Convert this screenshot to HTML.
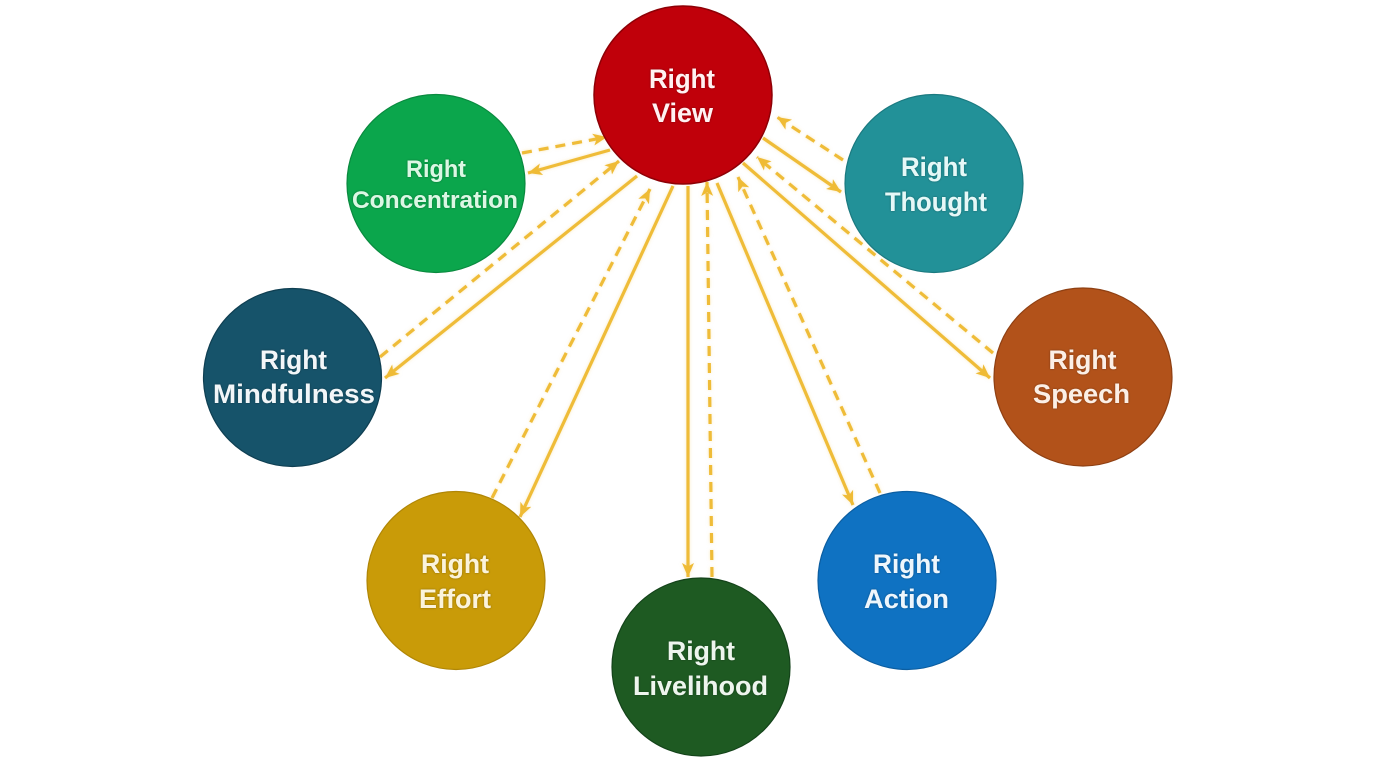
<!DOCTYPE html>
<html>
<head>
<meta charset="utf-8">
<style>
html,body{margin:0;padding:0;background:#ffffff;}
svg{display:block;}
text{font-family:"Liberation Sans",Arial,sans-serif;font-weight:bold;text-anchor:middle;}
</style>
</head>
<body>
<svg width="1375" height="768" viewBox="0 0 1375 768" xmlns="http://www.w3.org/2000/svg">
<defs>
  <marker id="ah" markerUnits="userSpaceOnUse" markerWidth="16" markerHeight="14" refX="14" refY="7" orient="auto">
    <path d="M0,1 L14,7 L0,13 L3.5,7 Z" fill="#efbb36"/>
  </marker>
  <filter id="ts" x="-10%" y="-30%" width="120%" height="160%">
    <feDropShadow dx="0" dy="0" stdDeviation="1" flood-color="#000" flood-opacity="0.35"/>
  </filter>
  <filter id="glow" x="-10%" y="-10%" width="120%" height="120%">
    <feDropShadow dx="0" dy="0" stdDeviation="1.5" flood-color="#f3d37a" flood-opacity="0.5"/>
  </filter>
</defs>
<rect width="1375" height="768" fill="#ffffff"/>

<g stroke="#efbc38" stroke-width="3.2" fill="none" stroke-linecap="butt" filter="url(#glow)">
  <!-- Concentration -->
  <line x1="522" y1="153" x2="607" y2="137" stroke-dasharray="10,7" marker-end="url(#ah)"/>
  <line x1="610" y1="150" x2="528" y2="173" marker-end="url(#ah)"/>
  <!-- Mindfulness -->
  <line x1="380" y1="357" x2="619" y2="161" stroke-dasharray="10,7" marker-end="url(#ah)"/>
  <line x1="637" y1="176" x2="385" y2="378" marker-end="url(#ah)"/>
  <!-- Effort -->
  <line x1="492" y1="498" x2="650" y2="189" stroke-dasharray="10,7" marker-end="url(#ah)"/>
  <line x1="673" y1="186" x2="520" y2="517" marker-end="url(#ah)"/>
  <!-- Livelihood -->
  <line x1="688" y1="186" x2="688" y2="577" marker-end="url(#ah)"/>
  <line x1="712" y1="577" x2="707" y2="182" stroke-dasharray="10,7" marker-end="url(#ah)"/>
  <!-- Action -->
  <line x1="717" y1="183" x2="853" y2="505" marker-end="url(#ah)"/>
  <line x1="880" y1="493" x2="738" y2="177" stroke-dasharray="10,7" marker-end="url(#ah)"/>
  <!-- Speech -->
  <line x1="743" y1="163" x2="990" y2="378" marker-end="url(#ah)"/>
  <line x1="993" y1="353" x2="757" y2="157" stroke-dasharray="10,7" marker-end="url(#ah)"/>
  <!-- Thought -->
  <line x1="763" y1="138" x2="841" y2="192" marker-end="url(#ah)"/>
  <line x1="843" y1="160" x2="777" y2="117" stroke-dasharray="10,7" marker-end="url(#ah)"/>
</g>

<!-- Circles -->
<circle cx="683" cy="95" r="89" fill="#c0000a" stroke="#8e0006" stroke-width="1.5"/>
<circle cx="436" cy="183.5" r="89" fill="#0ba64c" stroke="#0a8a3f" stroke-width="1.2"/>
<circle cx="934" cy="183.5" r="89" fill="#229198" stroke="#1b7a80" stroke-width="1.2"/>
<circle cx="292.5" cy="377.5" r="89" fill="#16536a" stroke="#0f3f52" stroke-width="1.2"/>
<circle cx="1083" cy="377" r="89" fill="#b2521a" stroke="#8f4013" stroke-width="1.2"/>
<circle cx="456" cy="580.5" r="89" fill="#c99b08" stroke="#b08606" stroke-width="1.2"/>
<circle cx="907" cy="580.5" r="89" fill="#0f72c2" stroke="#0c5ea1" stroke-width="1.2"/>
<circle cx="701" cy="667" r="89" fill="#1e5a22" stroke="#14431a" stroke-width="1.2"/>

<!-- Labels -->
<g filter="url(#ts)">
  <g fill="#fff2f2" font-size="27">
    <text x="682" y="88" textLength="66" lengthAdjust="spacingAndGlyphs">Right</text>
    <text x="682.5" y="122" textLength="61" lengthAdjust="spacingAndGlyphs">View</text>
  </g>
  <g fill="#dcf7e4" font-size="24">
    <text x="436" y="177" textLength="60" lengthAdjust="spacingAndGlyphs">Right</text>
    <text x="435" y="208" textLength="166" lengthAdjust="spacingAndGlyphs">Concentration</text>
  </g>
  <g fill="#e6f8f7" font-size="27">
    <text x="934" y="176" textLength="66" lengthAdjust="spacingAndGlyphs">Right</text>
    <text x="936" y="211" textLength="102" lengthAdjust="spacingAndGlyphs">Thought</text>
  </g>
  <g fill="#f2f6f8" font-size="27">
    <text x="293.5" y="369" textLength="67" lengthAdjust="spacingAndGlyphs">Right</text>
    <text x="294" y="403" textLength="162" lengthAdjust="spacingAndGlyphs">Mindfulness</text>
  </g>
  <g fill="#fbefe6" font-size="27">
    <text x="1082.5" y="369" textLength="68" lengthAdjust="spacingAndGlyphs">Right</text>
    <text x="1081.5" y="403" textLength="97" lengthAdjust="spacingAndGlyphs">Speech</text>
  </g>
  <g fill="#fbf3dc" font-size="27">
    <text x="455" y="573" textLength="68" lengthAdjust="spacingAndGlyphs">Right</text>
    <text x="455" y="608" textLength="72" lengthAdjust="spacingAndGlyphs">Effort</text>
  </g>
  <g fill="#eef6fc" font-size="27">
    <text x="906.5" y="573" textLength="67" lengthAdjust="spacingAndGlyphs">Right</text>
    <text x="906.5" y="608" textLength="85" lengthAdjust="spacingAndGlyphs">Action</text>
  </g>
  <g fill="#eef5ee" font-size="27">
    <text x="701" y="660" textLength="68" lengthAdjust="spacingAndGlyphs">Right</text>
    <text x="700.5" y="695" textLength="135" lengthAdjust="spacingAndGlyphs">Livelihood</text>
  </g>
</g>
</svg>
</body>
</html>
